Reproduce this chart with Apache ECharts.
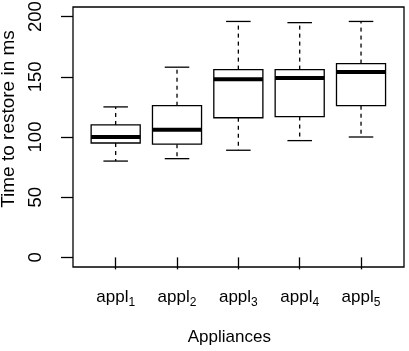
<!DOCTYPE html>
<html>
<head>
<meta charset="utf-8">
<script src="https://cdn.jsdelivr.net/npm/echarts@6/dist/echarts.min.js"></script>
<style>
  html, body { margin: 0; padding: 0; background: #fff; }
  #main { width: 409px; height: 351px; }
</style>
</head>
<body>
<div id="main"></div>
<script>
// 箱线图数据：min, Q1, median, Q3, max
const categories = ["appl1", "appl2", "appl3", "appl4", "appl5"];
const lowValues = [80, 82, 89, 97, 100];
const q1Values = [95, 94, 116, 117, 126];
const medianValues = [100, 106, 148, 149, 154];
const q3Values = [110, 126, 156, 156, 161];
const highValues = [125, 158, 196, 195, 196];
const yTicks = [0, 50, 100, 150, 200];

const FONT = "Liberation Sans, Arial, Helvetica, sans-serif";

const chart = echarts.init(document.getElementById("main"));

const boxData = categories.map((c, i) => [
  i,
  lowValues[i],
  q1Values[i],
  medianValues[i],
  q3Values[i],
  highValues[i],
]);

function renderBox(params, api) {
  const idx = api.value(0);
  const band = api.size([1, 0])[0];
  const cx = api.coord([idx, 0])[0];
  const yLow = api.coord([idx, api.value(1)])[1];
  const yQ1 = api.coord([idx, api.value(2)])[1];
  const yMed = api.coord([idx, api.value(3)])[1];
  const yQ3 = api.coord([idx, api.value(4)])[1];
  const yHigh = api.coord([idx, api.value(5)])[1];
  const halfBox = band * 0.4;
  const halfCap = band * 0.2;
  const solid = { stroke: "#000", lineWidth: 1.3, fill: null };
  const dashed = { stroke: "#000", lineWidth: 1.3, lineDash: [4, 4] };
  return {
    type: "group",
    children: [
      // 须线（虚线）
      { type: "line", shape: { x1: cx, y1: yQ3, x2: cx, y2: yHigh }, style: dashed },
      { type: "line", shape: { x1: cx, y1: yQ1, x2: cx, y2: yLow }, style: dashed },
      // 端线
      { type: "line", shape: { x1: cx - halfCap, y1: yHigh, x2: cx + halfCap, y2: yHigh }, style: solid },
      { type: "line", shape: { x1: cx - halfCap, y1: yLow, x2: cx + halfCap, y2: yLow }, style: solid },
      // 箱体
      {
        type: "rect",
        shape: { x: cx - halfBox, y: yQ3, width: halfBox * 2, height: yQ1 - yQ3 },
        style: { fill: "#fff", stroke: "#000", lineWidth: 1.3 },
      },
      // 中位数
      {
        type: "line",
        shape: { x1: cx - halfBox, y1: yMed, x2: cx + halfBox, y2: yMed },
        style: { stroke: "#000", lineWidth: 4 },
      },
    ],
  };
}

const option = {
  animation: false,
  backgroundColor: "#fff",
  textStyle: { fontFamily: FONT, color: "#000" },
  graphic: [
    {
      type: "rect",
      shape: { x: 73, y: 7, width: 331, height: 260 },
      style: { fill: null, stroke: "#000", lineWidth: 1.3 },
      z: 10,
    },
  ],
  grid: {
    left: 85,
    right: 17.3,
    top: 7,
    bottom: 84,
    outerBoundsMode: "none",
  },
  xAxis: {
    type: "category",
    data: categories,
    boundaryGap: true,
    name: "Appliances",
    nameLocation: "middle",
    nameGap: 62,
    nameTextStyle: { fontSize: 17, color: "#000", fontFamily: FONT, padding: [0, 18, 0, 0] },
    axisLine: { show: false },
    axisTick: {
      show: true,
      alignWithLabel: true,
      interval: 0,
      length: 12,
      lineStyle: { color: "#000", width: 1.3 },
    },
    axisLabel: {
      interval: 0,
      margin: 18,
      color: "#000",
      formatter: (v) => "{b|" + v.slice(0, -1) + "}{s|" + v.slice(-1) + "}",
      rich: {
        b: { fontSize: 17, lineHeight: 24, fontFamily: FONT, color: "#000" },
        s: { fontSize: 12, lineHeight: 13, verticalAlign: "bottom", fontFamily: FONT, color: "#000" },
      },
    },
    splitLine: { show: false },
  },
  yAxis: {
    type: "value",
    min: -8,
    max: 208,
    offset: 12,
    name: "Time to restore in ms",
    nameLocation: "middle",
    nameRotate: 90,
    nameGap: 39,
    nameTextStyle: { fontSize: 19, color: "#000", fontFamily: FONT, padding: [0, 0, 0, 36] },
    axisLine: { show: false },
    axisTick: {
      show: true,
      length: 12,
      customValues: yTicks,
      lineStyle: { color: "#000", width: 1.3 },
    },
    axisLabel: {
      rotate: 90,
      margin: 28,
      fontSize: 18.5,
      color: "#000",
      customValues: yTicks,
    },
    splitLine: { show: false },
  },
  series: [
    {
      type: "custom",
      renderItem: renderBox,
      data: boxData,
      encode: { x: 0, y: [1, 2, 3, 4, 5] },
    },
  ],
};

chart.setOption(option);
</script>
</body>
</html>
